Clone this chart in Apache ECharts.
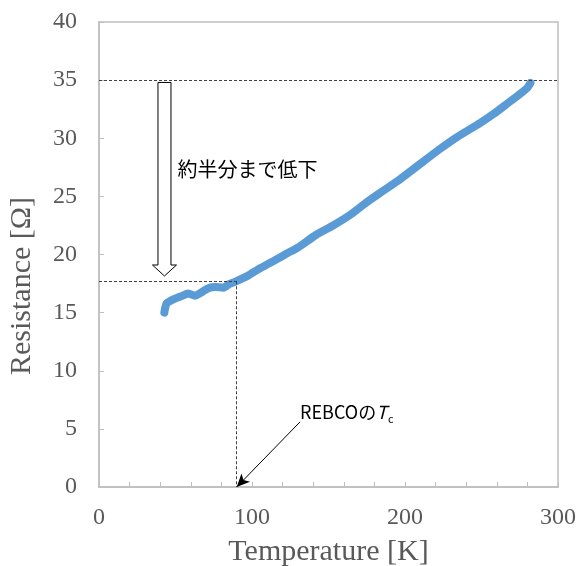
<!DOCTYPE html>
<html>
<head>
<meta charset="utf-8">
<script src="https://cdn.jsdelivr.net/npm/echarts@6/dist/echarts.min.js"></script>
<style>html,body{margin:0;padding:0;background:#fff;}#c{width:580px;height:566px;}</style>
</head>
<body>
<div id="c"></div>
<script>
// Data
const temperature = [42.7, 43.2, 44.2, 46.5, 49.7, 53.5, 58.4, 62.7, 66.5, 71.5, 76.0, 81.3, 85.0, 88.9, 93.0, 97.6, 105.0, 110.7, 117.0, 123.0, 130.0, 142.0, 153.0, 164.0, 175.0, 186.0, 197.0, 212.0, 222.0, 234.0, 249.0, 258.0, 267.0, 275.0, 280.0, 282.0];
const resistance  = [15.0, 15.4, 15.8, 16.0, 16.2, 16.4, 16.65, 16.45, 16.7, 17.1, 17.2, 17.15, 17.45, 17.65, 17.9, 18.2, 18.8, 19.2, 19.65, 20.1, 20.6, 21.7, 22.5, 23.4, 24.5, 25.5, 26.5, 28.0, 29.0, 30.1, 31.3, 32.1, 33.0, 33.8, 34.35, 34.75];
const xTicks = [0, 100, 200, 300];
const yTicks = [0, 5, 10, 15, 20, 25, 30, 35, 40];
const halfLevel = 17.7;   // resistance at Tc
const topLevel = 35;      // resistance near room temperature
const tcTemp = 90;        // REBCO Tc
const arrowT = 42.8;      // x position of hollow arrow
const arrowTop = 34.8, arrowTip = 18.15;
const tcArrowStart = [131.4, 5.6];
const annoText1 = '約半分まで低下';

const chart = echarts.init(document.getElementById('c'));
const points = temperature.map((t, i) => [t, resistance[i]]);
const serif = 'Liberation Serif, Times New Roman, serif';
const gray = '#595959';
const axisGray = '#bfbfbf';
const dash = {type: [3, 2], color: '#404040', width: 1};

chart.setOption({
  animation: false,
  grid: {left: 99, top: 22, right: 22, bottom: 79, show: true, borderColor: axisGray, borderWidth: 1.5,
         containLabel: false, outerBoundsMode: 'none'},
  xAxis: {
    type: 'value', min: 0, max: 300, interval: 20,
    name: 'Temperature [K]', nameLocation: 'middle', nameGap: 50,
    nameTextStyle: {fontFamily: serif, fontSize: 30, color: gray},
    axisLine: {lineStyle: {color: axisGray, width: 1.5}},
    axisTick: {inside: true, length: 5, lineStyle: {color: axisGray}},
    splitLine: {show: false},
    axisLabel: {margin: 19, fontFamily: serif, fontSize: 24, color: gray,
      formatter: v => xTicks.indexOf(v) >= 0 ? String(v) : ''}
  },
  yAxis: {
    type: 'value', min: 0, max: 40, interval: 5,
    name: 'Resistance [Ω]', nameLocation: 'middle', nameGap: 62,
    nameTextStyle: {fontFamily: serif, fontSize: 30, color: gray, padding: [0, 63, 0, 0]},
    axisLine: {lineStyle: {color: axisGray, width: 1.5}},
    axisTick: {inside: true, length: 5, lineStyle: {color: axisGray}},
    splitLine: {show: false},
    axisLabel: {margin: 22, fontFamily: serif, fontSize: 24, color: gray,
      formatter: v => yTicks.indexOf(v) >= 0 ? String(v) : ''}
  },
  series: [{
    type: 'line', data: points, smooth: 0.2, showSymbol: false, silent: true,
    lineStyle: {color: '#5b9bd5', width: 8, cap: 'round', join: 'round'},
    markLine: {
      silent: true, symbol: 'none', label: {show: false}, animation: false,
      data: [
        [{coord: [0, topLevel], lineStyle: dash}, {coord: [300, topLevel]}],
        [{coord: [0, halfLevel], lineStyle: dash}, {coord: [tcTemp, halfLevel]}],
        [{coord: [tcTemp, halfLevel], lineStyle: dash}, {coord: [tcTemp, 0]}],
        [{coord: tcArrowStart, symbol: 'none', lineStyle: {type: 'solid', color: '#000', width: 1}},
         {coord: [tcTemp, 0], symbol: 'arrow', symbolSize: [9, 13]}]
      ]
    }
  }]
});

// hollow block arrow and text annotations positioned from data coordinates
const pTop = chart.convertToPixel({gridIndex: 0}, [arrowT, arrowTop]);
const pTip = chart.convertToPixel({gridIndex: 0}, [arrowT, arrowTip]);
const cx = pTop[0], sw = 6.5, hw = 12, hh = 11;
const headY = pTip[1] - hh;
const pText1 = chart.convertToPixel({gridIndex: 0}, [51.3, 27.3]);
const pText2 = chart.convertToPixel({gridIndex: 0}, [131.4, 6.4]);
chart.setOption({
  graphic: [
    {type: 'polygon', silent: true, z: 100,
     shape: {points: [[cx - sw, pTop[1]], [cx + sw, pTop[1]], [cx + sw, headY], [cx + hw, headY], [cx, pTip[1]], [cx - hw, headY], [cx - sw, headY]]},
     style: {fill: '#fff', stroke: '#000', lineWidth: 1}},
    {type: 'text', silent: true, z: 100, x: pText1[0], y: pText1[1],
     style: {text: annoText1, font: '20px "Noto Sans CJK JP"', fill: '#000', align: 'left', verticalAlign: 'middle'}},
    {type: 'text', silent: true, z: 100, x: pText2[0], y: pText2[1],
     style: {text: '{a|REBCOの}{t|T}{s|c}', align: 'left', verticalAlign: 'middle',
       rich: {
         a: {fontFamily: 'Noto Sans CJK JP', fontSize: 18, fill: '#000', lineHeight: 24},
         t: {fontFamily: 'Noto Sans CJK JP', fontSize: 18, fontStyle: 'italic', fill: '#000', lineHeight: 24},
         s: {fontFamily: 'Noto Sans CJK JP', fontSize: 11, fill: '#000', lineHeight: 22, verticalAlign: 'bottom', padding: [0, 0, 0, 1]}
       }}}
  ]
});
</script>
</body>
</html>
